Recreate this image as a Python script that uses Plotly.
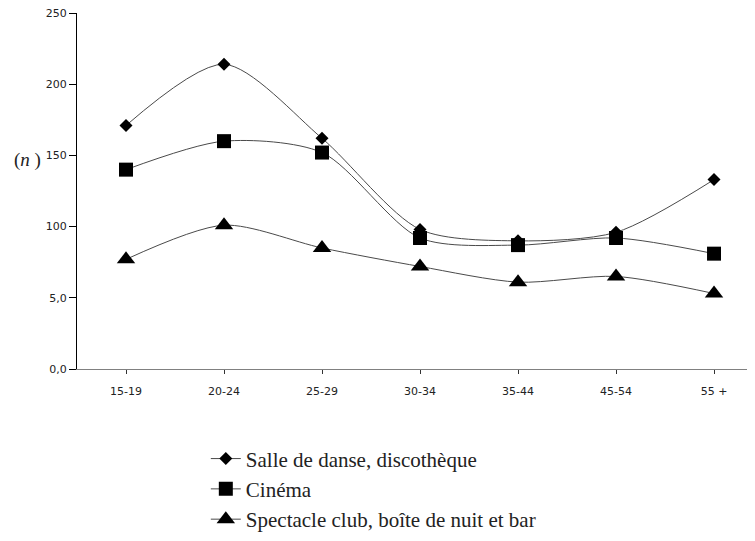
import plotly.graph_objects as go

categories = ["15-19", "20-24", "25-29", "30-34", "35-44", "45-54", "55 +"]
danse = [171, 214, 162, 98, 90, 96, 133]
cinema = [140, 160, 152, 92, 87, 92, 81]
spectacle = [77, 101, 85, 72, 61, 65, 53]
series_names = ["Salle de danse, discothèque", "Cinéma", "Spectacle club, boîte de nuit et bar"]
y_tickvals = [0, 50, 100, 150, 200, 250]
y_ticktext = ["0,0", "5,0", "100", "150", "200", "250"]

symbols = ["diamond", "square", "triangle-up"]
sizes = [10, 14, 16]
fig = go.Figure()
for i, (name, vals) in enumerate(zip(series_names, [danse, cinema, spectacle])):
    fig.add_trace(go.Scatter(
        x=list(range(len(categories))), y=vals, name=name,
        mode="lines+markers",
        line=dict(color="#4a4a4a", width=1, shape="spline", smoothing=0.8),
        marker=dict(symbol=symbols[i], size=sizes[i], color="black"),
    ))

fig.update_layout(
    width=747, height=533,
    margin=dict(l=69, r=0, t=5, b=172, autoexpand=False),
    paper_bgcolor="white", plot_bgcolor="white",
    showlegend=True,
    legend=dict(
        x=0.19, y=-0.195, xanchor="left", yanchor="top",
        font=dict(family="Liberation Serif", size=21, color="#222"),
        tracegroupgap=0, bgcolor="rgba(0,0,0,0)",
    ),
    xaxis=dict(
        range=[-0.5, 6.418], tickvals=list(range(len(categories))), ticktext=categories,
        showgrid=False, zeroline=False, showline=True, linecolor="#808080", linewidth=1,
        ticks="outside", ticklen=4, tickcolor="#333333", tickson="boundaries",
        tickfont=dict(family="DejaVu Sans", size=11, color="#222"),
        ticklabelstandoff=8, automargin=False,
    ),
    yaxis=dict(
        range=[0, 250], tickvals=y_tickvals, ticktext=y_ticktext,
        showgrid=False, zeroline=False, showline=True, linecolor="black", linewidth=1,
        ticks="outside", ticklen=7, tickcolor="black",
        tickfont=dict(family="DejaVu Sans", size=11, color="#222"),
        automargin=False, ticklabeloverflow="allow",
    ),
    annotations=[dict(
        text="(<i>n</i> )", xref="paper", yref="paper", x=-0.05, y=0.587,
        xanchor="right", yanchor="middle", showarrow=False,
        font=dict(family="Liberation Serif", size=19, color="#222"),
    )],
)

fig.write_html("out.html")
